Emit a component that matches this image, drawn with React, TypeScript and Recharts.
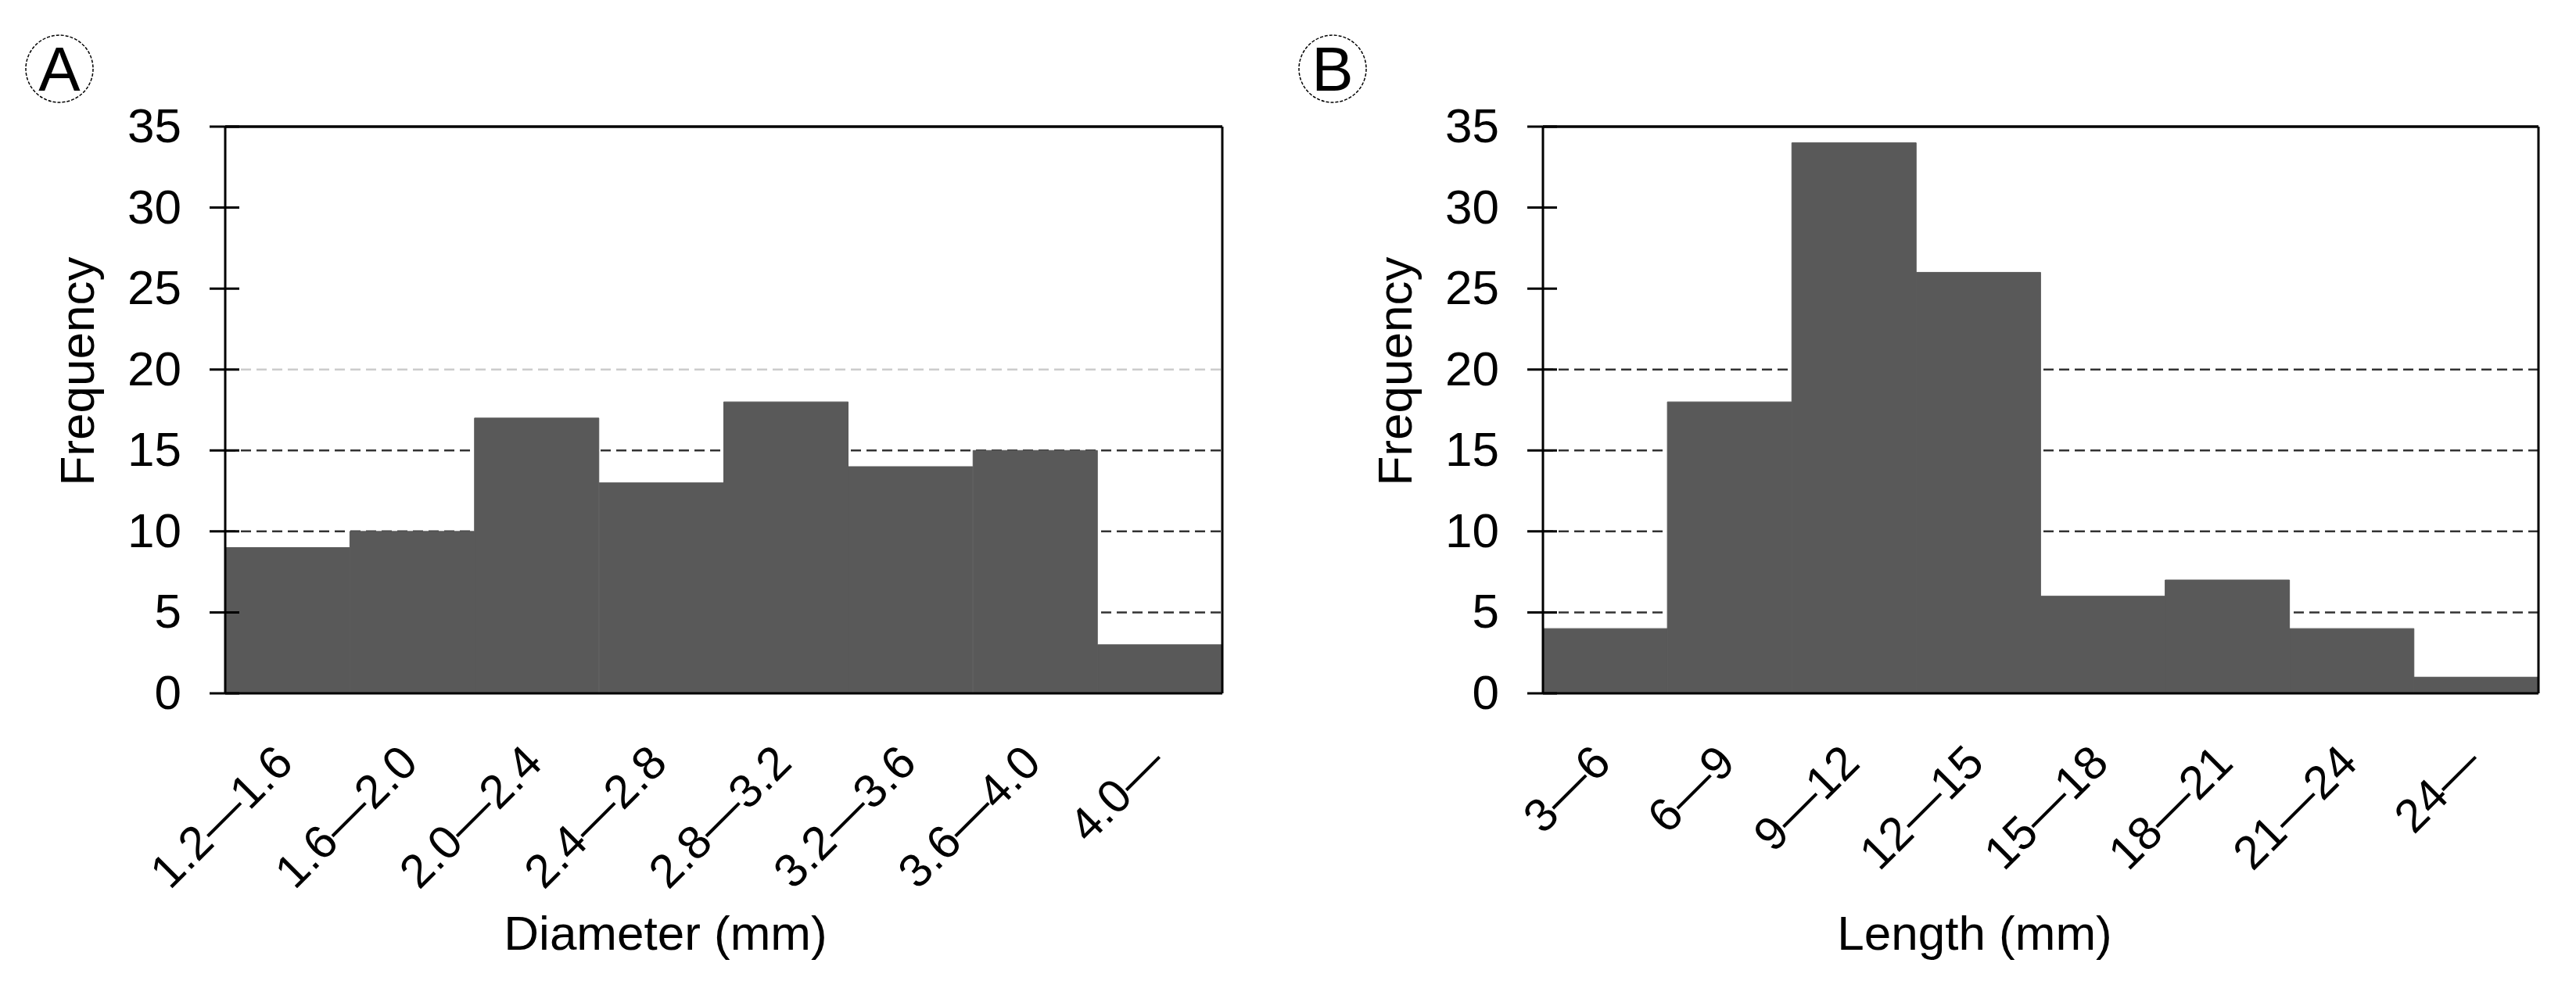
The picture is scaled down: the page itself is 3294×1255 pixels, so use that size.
import { BarChart, Bar, XAxis, YAxis, CartesianGrid } from 'recharts';

// bins and counts
const diameterBins = ['1.2—1.6', '1.6—2.0', '2.0—2.4', '2.4—2.8', '2.8—3.2', '3.2—3.6', '3.6—4.0', '4.0—'];
const diameterFreq = [9, 10, 17, 13, 18, 14, 15, 3];
const lengthBins = ['3—6', '6—9', '9—12', '12—15', '15—18', '18—21', '21—24', '24—'];
const lengthFreq = [4, 18, 34, 26, 6, 7, 4, 1];
const yTicks = [0, 5, 10, 15, 20, 25, 30, 35];
const binEdges = [0, 1, 2, 3, 4, 5, 6, 7, 8];
const gridDarkA = [5, 10, 15];
const gridLightA = [20];
const gridDarkB = [5, 10, 15, 20];

const FONT = '"Liberation Sans", Arial, Helvetica, sans-serif';
const PAGE_W = 3294;
const PAGE_H = 1255;
const PLOT_TOP = 162;
const PLOT_BOTTOM = 887;
const EDGE_H = 20;
const FRAME = 1;
const FS = 62;
const FS_X = 60;
const BAR_FILL = '#595959';

const YTick = (props: any) => {
    const { x, y, payload } = props;
    return (
        <g>
            <line x1={x - 20} x2={x + 18} y1={y} y2={y} stroke="#000" strokeWidth={3} />
            <text x={x - 56} y={y + 20} textAnchor="end" fontSize={FS} fontFamily={FONT} fill="#000">
                {payload.value}
            </text>
        </g>
    );
};

const XTick = (props: any) => {
    const { x, y, payload } = props;
    const ax = x + 10;
    const ay = y + 72;
    return (
        <text
            x={ax}
            y={ay}
            transform={`rotate(-45 ${ax} ${ay})`}
            textAnchor="end"
            fontSize={FS_X}
            fontFamily={FONT}
            fill="#000"
        >
            {payload.value}
        </text>
    );
};

type HistProps = {
    bins: string[];
    freq: number[];
    left: number;
    width: number;
    plotLeft: number;
    plotRight: number;
    darkGrid: number[];
    lightGrid: number[];
};

const Histogram = ({ bins, freq, left, width, plotLeft, plotRight, darkGrid, lightGrid }: HistProps) => {
    const data = bins.map((bin, i) => ({ bin, freq: freq[i] }));

    return (
        <div style={{ position: 'absolute', left, top: 0 }}>
            <BarChart
                width={width}
                height={PAGE_H}
                data={data}
                margin={{ top: PLOT_TOP - FRAME, right: width - plotRight - FRAME, bottom: 0, left: 0 }}
                barCategoryGap={0}
                barGap={0}
            >
                <CartesianGrid
                    vertical={false}
                    horizontalValues={darkGrid}
                    stroke="#333333"
                    strokeDasharray="13 7"
                    strokeWidth={2.5}
                />
                {lightGrid.length > 0 && (
                    <CartesianGrid
                        vertical={false}
                        horizontalValues={lightGrid}
                        stroke="#cccccc"
                        strokeDasharray="13 7"
                        strokeWidth={2.5}
                    />
                )}
                {/* bin edges: tick marks between categories */}
                <XAxis
                    xAxisId={0}
                    type="number"
                    domain={[0, 8]}
                    ticks={binEdges}
                    tick={false}
                    tickSize={EDGE_H}
                    height={EDGE_H}
                    axisLine={{ stroke: '#000', strokeWidth: 3 }}
                    tickLine={{ stroke: '#000', strokeWidth: 3 }}
                />
                {/* category labels */}
                <XAxis
                    xAxisId={1}
                    dataKey="bin"
                    interval={0}
                    tickLine={false}
                    axisLine={false}
                    tickSize={0}
                    tickMargin={0}
                    height={PAGE_H - PLOT_BOTTOM - EDGE_H}
                    tick={XTick}
                />
                {/* frame top */}
                <XAxis
                    xAxisId={2}
                    orientation="top"
                    type="number"
                    domain={[0, 8]}
                    tick={false}
                    tickLine={false}
                    height={FRAME}
                    axisLine={{ stroke: '#000', strokeWidth: 3.5 }}
                />
                <YAxis
                    yAxisId={0}
                    type="number"
                    domain={[0, 35]}
                    ticks={yTicks}
                    interval={0}
                    width={plotLeft}
                    tickSize={0}
                    tickMargin={0}
                    tickLine={false}
                    axisLine={{ stroke: '#000', strokeWidth: 3 }}
                    tick={YTick}
                />
                {/* frame right */}
                <YAxis
                    yAxisId={1}
                    orientation="right"
                    type="number"
                    domain={[0, 35]}
                    tick={false}
                    tickLine={false}
                    width={FRAME}
                    axisLine={{ stroke: '#000', strokeWidth: 3 }}
                />
                <Bar
                    dataKey="freq"
                    xAxisId={1}
                    yAxisId={0}
                    fill={BAR_FILL}
                    stroke={BAR_FILL}
                    strokeWidth={1}
                    isAnimationActive={false}
                />
            </BarChart>
        </div>
    );
};

const PanelTag = ({ cx, cy, letter }: { cx: number; cy: number; letter: string }) => (
    <g>
        <circle cx={cx} cy={cy} r={43} fill="none" stroke="#000" strokeWidth={1.5} strokeDasharray="4 2" />
        <text x={cx} y={cy + 28} textAnchor="middle" fontSize={80} fontFamily={FONT} fill="#000">
            {letter}
        </text>
    </g>
);

export default function App() {
    return (
        <div style={{ position: 'absolute', left: 0, top: 0, width: PAGE_W, height: PAGE_H, background: '#fff' }}>
            <Histogram
                bins={diameterBins}
                freq={diameterFreq}
                left={0}
                width={1647}
                plotLeft={288}
                plotRight={1563}
                darkGrid={gridDarkA}
                lightGrid={gridLightA}
            />
            <Histogram
                bins={lengthBins}
                freq={lengthFreq}
                left={1647}
                width={1647}
                plotLeft={326}
                plotRight={1599}
                darkGrid={gridDarkB}
                lightGrid={[]}
            />
            <svg
                width={PAGE_W}
                height={PAGE_H}
                style={{ position: 'absolute', left: 0, top: 0, pointerEvents: 'none' }}
            >
                <PanelTag cx={76} cy={88} letter="A" />
                <PanelTag cx={1704} cy={88} letter="B" />
                <text x={120} y={475} transform="rotate(-90 120 475)" textAnchor="middle" fontSize={FS} fontFamily={FONT} fill="#000">
                    Frequency
                </text>
                <text x={1805} y={475} transform="rotate(-90 1805 475)" textAnchor="middle" fontSize={FS} fontFamily={FONT} fill="#000">
                    Frequency
                </text>
                <text x={851} y={1215} textAnchor="middle" fontSize={FS} fontFamily={FONT} fill="#000">
                    Diameter (mm)
                </text>
                <text x={2525} y={1215} textAnchor="middle" fontSize={FS} fontFamily={FONT} fill="#000">
                    Length (mm)
                </text>
            </svg>
        </div>
    );
}
